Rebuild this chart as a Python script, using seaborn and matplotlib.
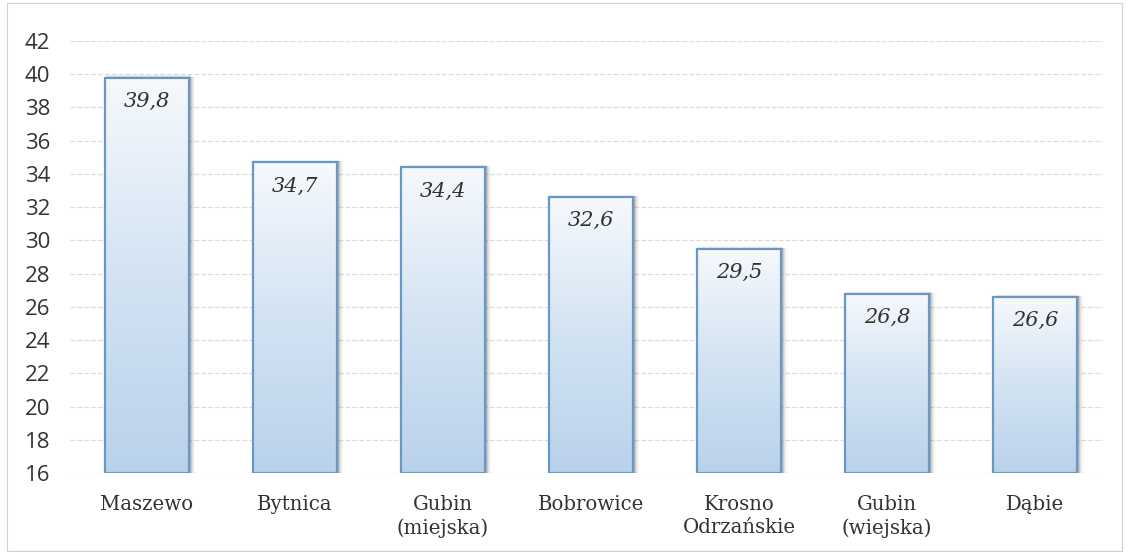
import numpy as np
import pandas as pd
import matplotlib
matplotlib.use("Agg")
import matplotlib.pyplot as plt
import seaborn as sns
from matplotlib.patches import Rectangle

categories = ["Maszewo", "Bytnica", "Gubin\n(miejska)", "Bobrowice",
              "Krosno\nOdrzańskie", "Gubin\n(wiejska)", "Dąbie"]
values = [39.8, 34.7, 34.4, 32.6, 29.5, 26.8, 26.6]
value_labels = ["39,8", "34,7", "34,4", "32,6", "29,5", "26,8", "26,6"]
y_ticks = list(range(16, 43, 2))
y_min, y_max = 16, 42

sns.set_theme(style="white")
plt.rcParams["font.family"] = ["DejaVu Sans"]

fig = plt.figure(figsize=(11.27, 5.54), dpi=100)
ax = fig.add_axes([0.062, 0.146, 0.917, 0.780])

df = pd.DataFrame({"gmina": categories, "wartosc": values})
sns.barplot(data=df, x="gmina", y="wartosc", ax=ax, width=0.57,
            color="#c5daef", edgecolor="none", linewidth=0,
            saturation=1, zorder=3)

ax.set_ylim(y_min, y_max)
ax.set_xlim(-0.52, 6.46)
ax.set_yticks(y_ticks)
ax.set_yticklabels([str(t) for t in y_ticks], fontsize=16, color="#333333",
                   family="Open Sans")
ax.set_xticks(range(len(categories)))
ax.set_xticklabels(categories, fontsize=14.2, color="#333333",
                   family="DejaVu Serif", linespacing=1.25)
ax.tick_params(axis="y", length=0, pad=14)
ax.tick_params(axis="x", length=0, pad=16)
ax.set_xlabel("")
ax.set_ylabel("")
for s in ax.spines.values():
    s.set_visible(False)

# horizontal gridlines
for t in y_ticks:
    ax.axhline(t, color="#dcdcdc", linewidth=0.9, linestyle=(0, (4, 1.5)), zorder=1)

# vertical gradient fill and soft right-hand shadow for every bar
grad = np.linspace(0, 1, 256).reshape(-1, 1)
cmap = matplotlib.colors.LinearSegmentedColormap.from_list(
    "barfill", ["#b9d2eb", "#d3e3f3", "#f6f9fd"])
for bar in ax.patches[:len(values)]:
    x0, w = bar.get_x(), bar.get_width()
    h = bar.get_height()
    bar.set_visible(False)
    for k, a in enumerate([0.20, 0.15, 0.10, 0.06, 0.03]):
        off = 0.010 + k * 0.008
        ax.add_patch(Rectangle((x0 + w, y_min), off, h - y_min + 0.05,
                               facecolor="#555555", edgecolor="none",
                               alpha=a, zorder=2))
        ax.add_patch(Rectangle((x0 + 0.01, h), w, 0.03 + k * 0.035,
                               facecolor="#555555", edgecolor="none",
                               alpha=a * 0.7, zorder=2))
    clip = Rectangle((x0, y_min), w, h - y_min, transform=ax.transData)
    im = ax.imshow(grad, extent=[x0, x0 + w, y_min, h], origin="lower",
                   cmap=cmap, aspect="auto", zorder=3.5)
    im.set_clip_path(clip)
    ax.add_patch(Rectangle((x0, y_min), w, h - y_min, facecolor="none",
                           edgecolor="#6a98c4", linewidth=1.6, zorder=4))

ax.set_xlim(-0.52, 6.46)
ax.set_ylim(y_min, y_max)

for i, (v, lab) in enumerate(zip(values, value_labels)):
    ax.annotate(lab, xy=(i, v), xytext=(0, -17), textcoords="offset points",
                ha="center", va="center", fontsize=15, style="italic",
                color="#333333", family="DejaVu Serif", zorder=5)

# thin frame around the whole chart area
fig.patches.append(Rectangle((0.006, 0.005), 0.99, 0.99, transform=fig.transFigure,
                             facecolor="none", edgecolor="#d0d0d0", linewidth=0.8))

fig.savefig("out.png", dpi=100, facecolor="white")
